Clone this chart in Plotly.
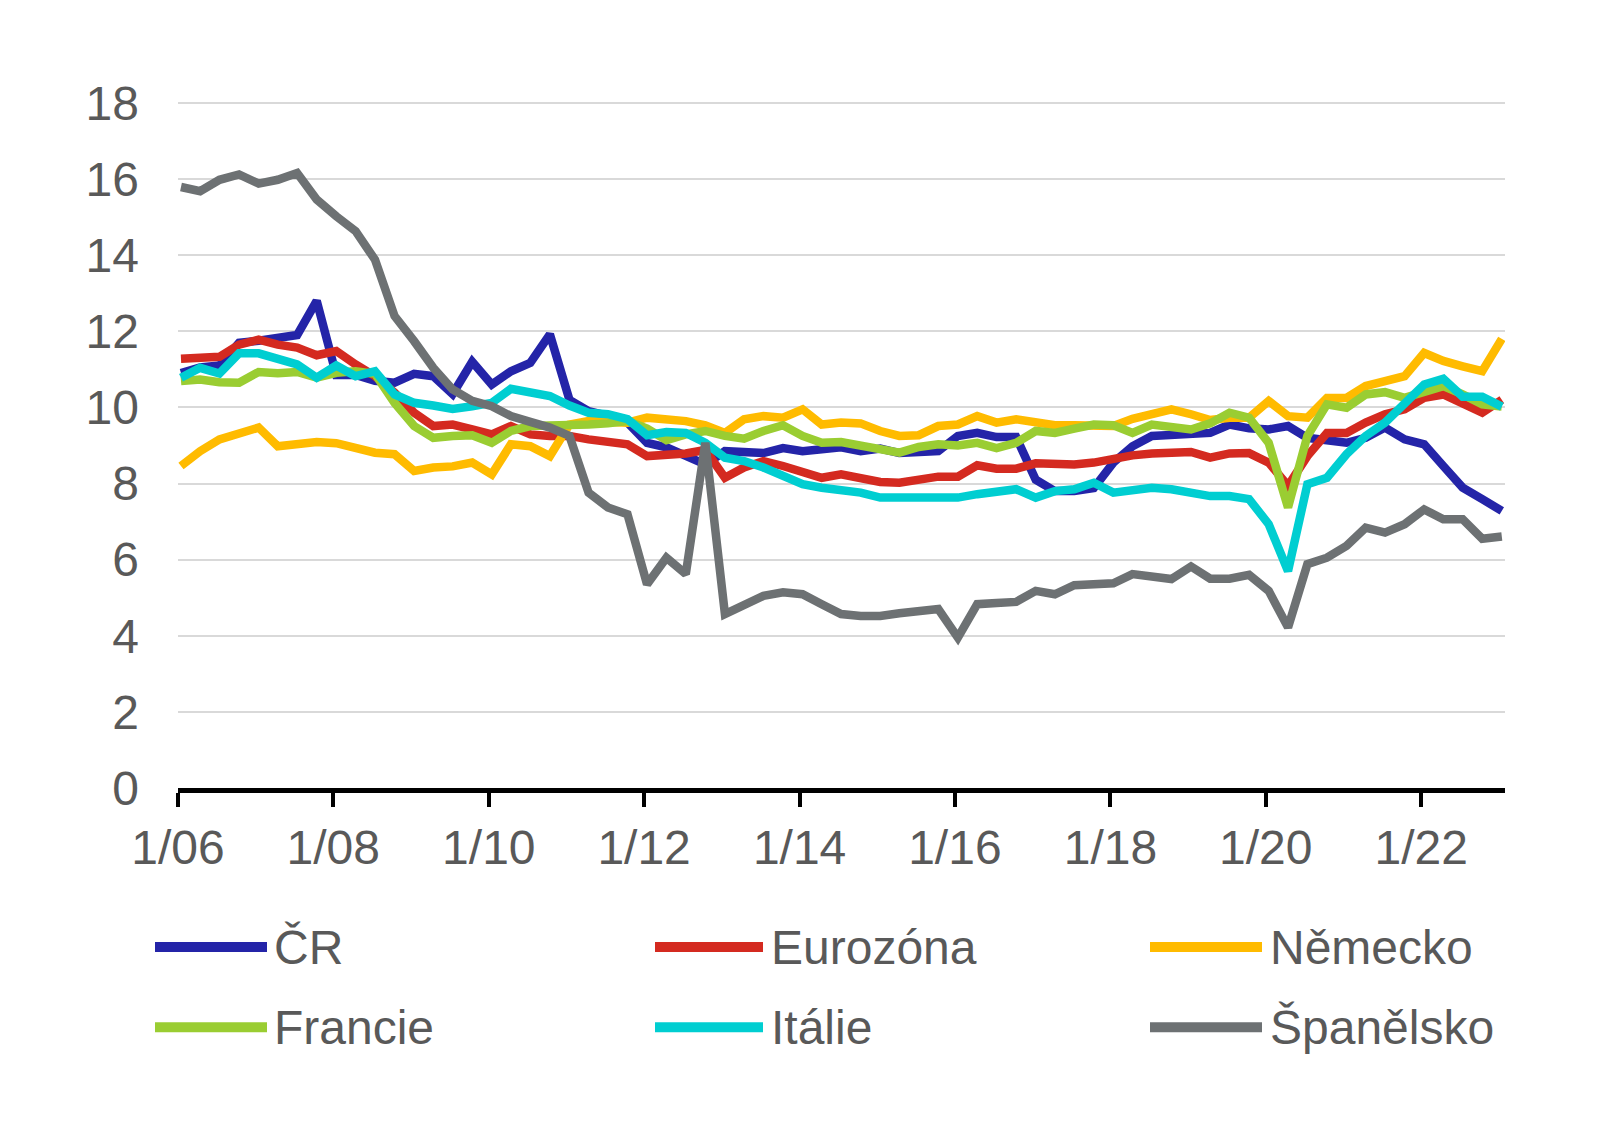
import plotly.graph_objects as go

# ---------------- data (quarterly, 1/2006 .. 1/2023) ----------------
years = list(range(2006, 2024))
quarters = [(y, q) for y in years for q in (1, 2, 3, 4) if not (y == 2023 and q > 1)]
x_vals = [f"{y}-{3 * q - 2:02d}-15" for (y, q) in quarters]

series_names = ["ČR", "Eurozóna", "Německo", "Francie", "Itálie", "Španělsko"]
series_colors = ["#2424A8", "#D42A20", "#FFBB00", "#9ACD32", "#00CED1", "#6D7173"]

cr = [10.9, 11.05, 11.1, 11.7, 11.75, 11.82, 11.9, 12.8, 10.85, 10.85,
      10.7, 10.65, 10.88, 10.82, 10.35, 11.2, 10.6, 10.95, 11.17, 11.92,
      10.2, 9.9, 9.78, 9.6, 9.07, 8.95, 8.7, 8.5, 8.85, 8.8,
      8.8, 8.93, 8.85, 8.9, 8.95, 8.85, 8.92, 8.8, 8.8, 8.85,
      9.25, 9.33, 9.22, 9.22, 8.1, 7.8, 7.8, 7.88, 8.55, 8.98,
      9.25, 9.29, 9.29, 9.33, 9.55, 9.45, 9.42, 9.51, 9.2, 9.16,
      9.07, 9.2, 9.47, 9.16, 9.03, 8.46, 7.89, 7.59, 7.28]
eurozona = [11.28, 11.28, 11.33, 11.65, 11.78, 11.65, 11.57, 11.37, 11.48, 11.13,
            10.82, 10.39, 9.86, 9.51, 9.55, 9.42, 9.29, 9.51, 9.29, 9.25,
            9.25, 9.16, 9.12, 9.03, 8.72, 8.74, 8.79, 8.88, 8.15, 8.42,
            8.59, 8.46, 8.33, 8.15, 8.24, 8.15, 8.04, 8.02, 8.11, 8.18,
            8.18, 8.48, 8.39, 8.39, 8.53, 8.5, 8.5, 8.55, 8.65, 8.74,
            8.79, 8.81, 8.83, 8.68, 8.79, 8.8, 8.55, 7.94, 8.72, 9.33,
            9.33, 9.6, 9.82, 9.95, 10.25, 10.34, 10.12, 9.86, 10.2]
nemecko = [8.46, 8.85, 9.16, 9.33, 9.47, 8.98, 9.06, 9.09, 9.06, 8.96,
           8.81, 8.77, 8.33, 8.42, 8.45, 8.55, 8.24, 9.03, 8.98, 8.72,
           9.55, 9.64, 9.6, 9.6, 9.73, 9.7, 9.64, 9.53, 9.33, 9.69,
           9.77, 9.73, 9.95, 9.55, 9.6, 9.58, 9.38, 9.25, 9.27, 9.51,
           9.55, 9.77, 9.6, 9.69, 9.6, 9.53, 9.53, 9.51, 9.51, 9.7,
           9.82, 9.95, 9.82, 9.67, 9.73, 9.73, 10.17, 9.77, 9.73, 10.25,
           10.25, 10.56, 10.69, 10.82, 11.43, 11.22, 11.08, 10.95, 11.8]
francie = [10.69, 10.73, 10.66, 10.65, 10.93, 10.9, 10.93, 10.78, 10.91, 10.95,
           10.88, 10.12, 9.51, 9.2, 9.25, 9.27, 9.07, 9.38, 9.51, 9.51,
           9.51, 9.55, 9.58, 9.64, 9.44, 9.14, 9.29, 9.38, 9.25, 9.18,
           9.38, 9.53, 9.25, 9.07, 9.09, 8.98, 8.9, 8.81, 8.96, 9.03,
           9.0, 9.07, 8.93, 9.07, 9.38, 9.33, 9.44, 9.55, 9.53, 9.33,
           9.55, 9.51, 9.42, 9.58, 9.86, 9.73, 9.07, 7.37, 9.25, 10.08,
           9.99, 10.34, 10.4, 10.25, 10.38, 10.56, 10.34, 10.08, 10.02]
italie = [10.78, 11.04, 10.89, 11.42, 11.42, 11.28, 11.13, 10.78, 11.1, 10.82,
          10.95, 10.34, 10.12, 10.05, 9.96, 10.03, 10.12, 10.49, 10.37, 10.3,
          10.05, 9.86, 9.82, 9.69, 9.27, 9.35, 9.33, 9.07, 8.68, 8.59,
          8.42, 8.2, 7.98, 7.89, 7.85, 7.76, 7.63, 7.63, 7.63, 7.6,
          7.63, 7.72, 7.76, 7.85, 7.63, 7.8, 7.85, 8.02, 7.76, 7.8,
          7.89, 7.85, 7.78, 7.67, 7.67, 7.59, 6.93, 5.7, 7.98, 8.15,
          8.77, 9.25, 9.6, 10.08, 10.6, 10.75, 10.28, 10.28, 10.02]
spanelsko = [15.79, 15.68, 15.98, 16.12, 15.88, 15.98, 16.16, 15.46, 15.02, 14.63,
             13.88, 12.4, 11.74, 11.04, 10.47, 10.17, 10.03, 9.77, 9.62, 9.47,
             9.25, 7.76, 7.37, 7.19, 5.35, 6.05, 5.62, 9.07, 4.57, 4.83,
             5.05, 5.14, 5.09, 4.83, 4.57, 4.52, 4.52, 4.59, 4.63, 4.7,
             3.95, 4.83, 4.86, 4.89, 5.18, 5.09, 5.33, 5.38, 5.38, 5.62,
             5.57, 5.49, 5.82, 5.5, 5.5, 5.6, 5.18, 4.22, 5.88, 6.05,
             6.36, 6.84, 6.71, 6.93, 7.32, 7.06, 7.06, 6.55, 6.61]
series_values = [cr, eurozona, nemecko, francie, italie, spanelsko]

tick_years = list(range(2006, 2023, 2))
tick_vals = [f"{y}-01-01" for y in tick_years]
tick_labels = [f"1/{str(y)[2:]}" for y in tick_years]
y_ticks = list(range(0, 19, 2))
y_max = 18.05
x_range = ["2006-01-01", "2023-01-30"]

# ---------------- layout constants (page pixels) ----------------
OFF = 8                      # default body margin of the html page
W, H = 1616 - 2 * OFF, 1124 - 2 * OFF
L, R, B = 178 - OFF, 1505 - OFF, 788 - OFF
Y18 = 103.3 - OFF
unit = (B - Y18) / 18.0
T = Y18 - (y_max - 18) * unit
FONT = "Liberation Sans, Arial, sans-serif"
TXT = "#595959"


def px_x(px):
    return (px - OFF - L) / (R - L)


def px_y(py):
    return (B - (py - OFF)) / (B - T)


fig = go.Figure()
for name, color, vals in zip(series_names, series_colors, series_values):
    fig.add_trace(go.Scatter(x=x_vals, y=vals, name=name, mode="lines",
                             line=dict(color=color, width=8.5),
                             showlegend=False))

# custom legend (2 rows x 3 columns), page pixel positions
col_line_start = [155, 655, 1150]
col_line_end = [267, 763, 1262]
col_text = [272, 769, 1268]
row_y = [947, 1027]
shapes = []
annotations = []
for k, (name, color) in enumerate(zip(series_names, series_colors)):
    r, c = divmod(k, 3)
    shapes.append(dict(type="line", xref="paper", yref="paper",
                       x0=px_x(col_line_start[c]), x1=px_x(col_line_end[c]),
                       y0=px_y(row_y[r]), y1=px_y(row_y[r]),
                       line=dict(color=color, width=10)))
    annotations.append(dict(xref="paper", yref="paper", x=px_x(col_text[c]),
                            y=px_y(row_y[r]), xanchor="left", yanchor="middle",
                            text=name, showarrow=False,
                            font=dict(family=FONT, size=48, color=TXT)))

fig.update_layout(
    width=W, height=H, autosize=False,
    margin=dict(l=L, r=W - R, t=T, b=H - B, pad=0),
    plot_bgcolor="white", paper_bgcolor="white",
    shapes=shapes, annotations=annotations,
    showlegend=False,
    xaxis=dict(type="date", range=x_range, tickvals=tick_vals, ticktext=tick_labels,
               showgrid=False, zeroline=False, showline=True, linecolor="black",
               linewidth=4.5, ticks="outside", ticklen=14, tickwidth=4,
               tickcolor="black", ticklabelstandoff=0,
               tickfont=dict(family=FONT, size=48, color=TXT)),
    yaxis=dict(range=[0, y_max], tickvals=y_ticks, showgrid=True,
               gridcolor="#D9D9D9", gridwidth=1.5, zeroline=False,
               showline=False, ticks="", ticklabelstandoff=38,
               tickfont=dict(family=FONT, size=48, color=TXT)),
)

fig.write_html("out.html")
